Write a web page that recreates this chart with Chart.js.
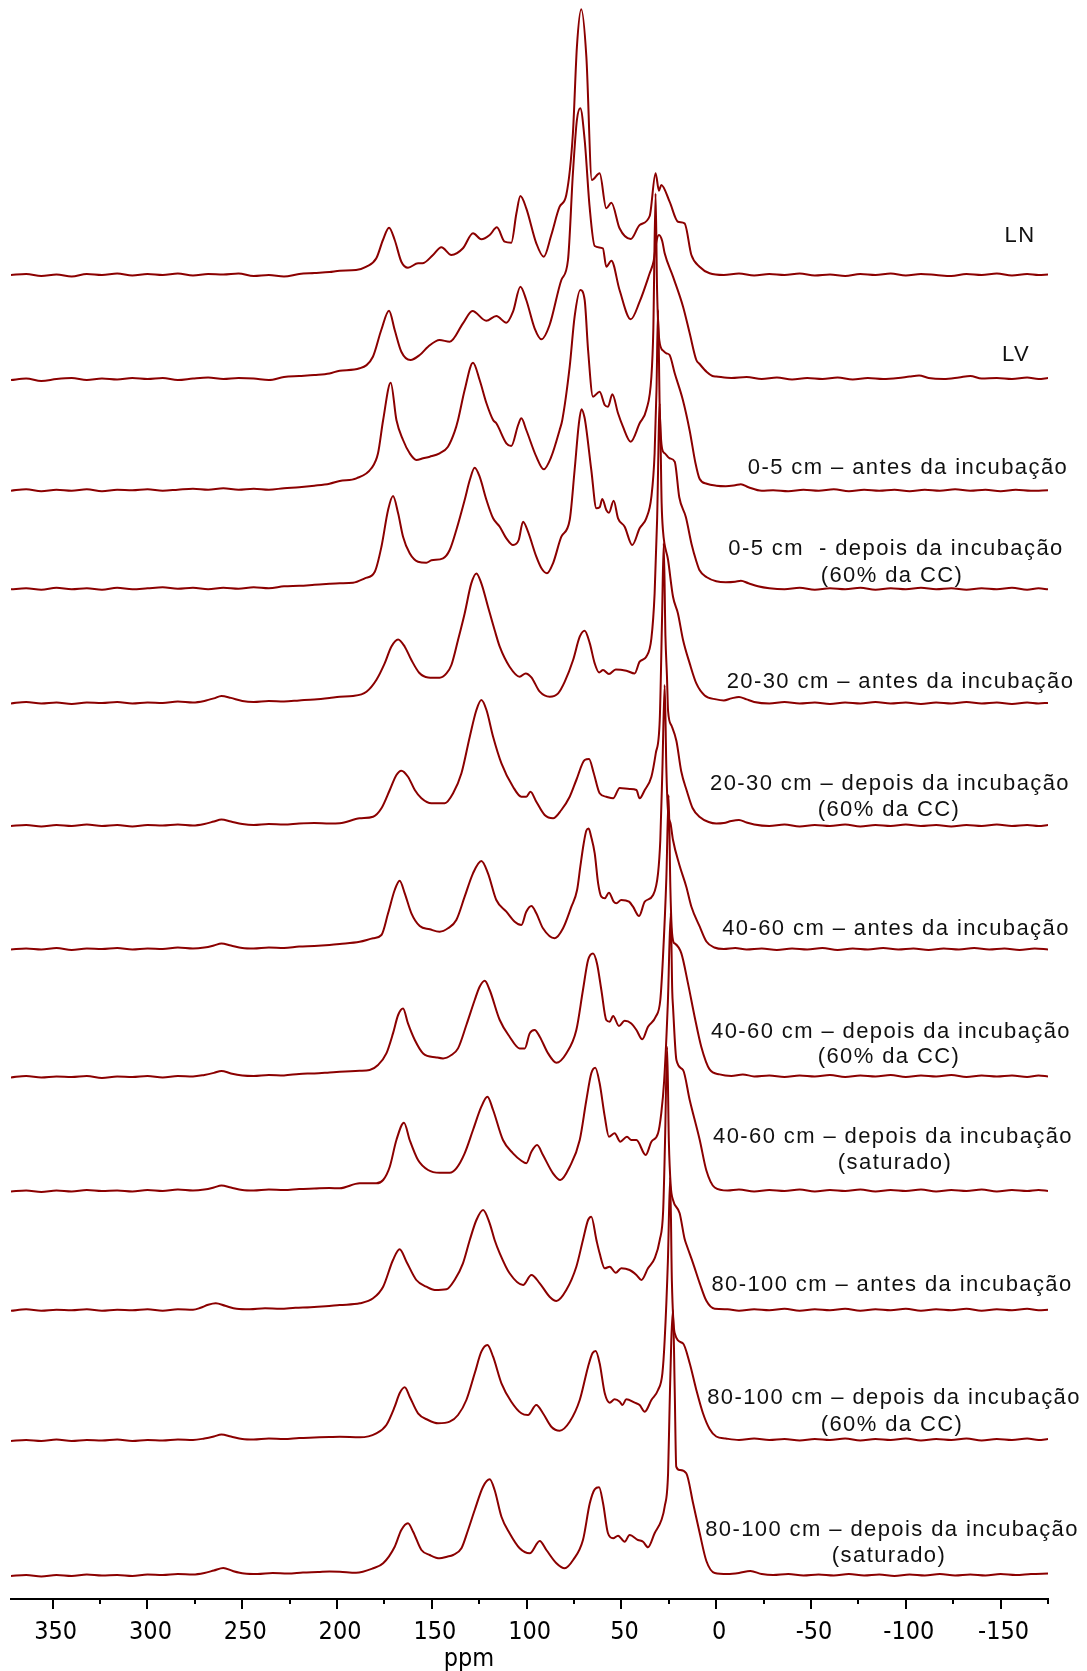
<!DOCTYPE html>
<html><head><meta charset="utf-8">
<script src="https://cdn.jsdelivr.net/npm/chart.js@4.4.1/dist/chart.umd.min.js"></script>
<style>html,body{margin:0;padding:0;background:#fff;}#wrap{width:1087px;height:1671px;}</style>
</head><body><div id="wrap"><canvas id="c" width="1087" height="1671"></canvas></div>
<script>
// ---------- DATA (ppm, intensity above each trace's own baseline) ----------
const traceLabels = [
  ["LN"],
  ["LV"],
  ["0-5 cm \u2013 antes da incuba\u00e7\u00e3o"],
  ["0-5 cm  - depois da incuba\u00e7\u00e3o", "(60% da CC)"],
  ["20-30 cm \u2013 antes da incuba\u00e7\u00e3o"],
  ["20-30 cm \u2013 depois da incuba\u00e7\u00e3o", "(60% da CC)"],
  ["40-60 cm \u2013 antes da incuba\u00e7\u00e3o"],
  ["40-60 cm \u2013 depois da incuba\u00e7\u00e3o", "(60% da CC)"],
  ["40-60 cm \u2013 depois da incuba\u00e7\u00e3o", "(saturado)"],
  ["80-100 cm \u2013 antes da incuba\u00e7\u00e3o"],
  ["80-100 cm \u2013 depois da incuba\u00e7\u00e3o", "(60% da CC)"],
  ["80-100 cm \u2013 depois da incuba\u00e7\u00e3o", "(saturado)"]
];
// vertical stacking offset of each spectrum (intensity units)
const stackOffsets = [1324, 1220, 1108.3, 1009.7, 895.6, 773, 649.5, 521.6, 407.5, 288.2, 158, 23];
const xTickValues = [350, 300, 250, 200, 150, 100, 50, 0, -50, -100, -150];

const LN = [[372,0],[364,1],[356,-1],[348,0.5],[340,-1.5],[332,1],[324,0],[316,1.5],[308,-0.5],[300,1],[292,0],[284,1.5],[276,-0.5],[268,1],[260,0.5],[252,1.5],[244,-1],[236,0],[228,-1.5],[220,1],[212,2],[204,3],[198.6,4.3],[190,5],[184.5,8.3],[179.3,16.7],[175.8,35],[172.6,47.3],[169.6,35],[166.1,13.3],[162.6,7.3],[157.3,11.7],[155,11.7],[149.4,20],[145,27.7],[139.7,20],[133.6,26.7],[128.3,41.7],[123.9,35.7],[119.5,40],[115.7,47.7],[111.6,33.3],[108.1,32.3],[105.4,61.7],[103.3,79],[100.2,66.7],[94.9,31.7],[91,18.3],[87,40],[82.6,68.3],[79.1,80],[75.6,141.7],[73.5,228],[71.2,265.7],[68.5,218],[65.6,95],[61.5,101.7],[58,66.7],[55.3,72.3],[51,46.7],[45.1,36],[40.4,50],[35.1,59],[32,101.7],[30.2,84.3],[29,90],[24.6,73.3],[20.2,53.3],[16.7,51.7],[13.1,20],[8.8,8.3],[3.5,1.7],[-4,0],[-12,1.5],[-20,-0.5],[-28,1],[-36,0],[-44,1.5],[-52,-0.5],[-60,0.5],[-68,-1],[-76,1],[-84,0],[-92,1.5],[-100,-0.5],[-108,1],[-116,0],[-124,-1],[-132,1],[-140,0],[-148,1.5],[-156,-0.5],[-164,1],[-170,0],[-175,0.5]];

const LV = [[372,-1],[364,0.5],[356,-2],[348,0],[340,1],[332,-1],[324,0.5],[316,-0.5],[308,1],[300,0],[292,1],[284,-1],[276,0.5],[268,1.5],[260,0],[252,1],[244,0.5],[236,-1],[228,2],[220,3],[212,4],[204,5.5],[198.6,8.3],[188.1,10.7],[181.1,22.3],[176.7,49],[172.6,68.3],[169.6,49],[166.1,27.3],[161.3,19],[156.4,24],[152,32.3],[145.9,39],[140.6,37.3],[133.6,55.7],[128.6,68],[121.3,58.3],[116,63],[110.7,56.3],[107.2,67.3],[103.3,92.3],[100.2,79],[95.8,50.7],[92.2,39.7],[87.9,54],[81.7,99],[78.2,119],[75.6,205.7],[73.5,259],[71.7,270.7],[69.4,239],[66.8,172.3],[64.1,133],[59.8,130.7],[58,112.3],[55.3,118.3],[51,89],[45.1,59.7],[40.4,77.3],[35.1,105.7],[33,118],[31.5,138],[30.2,144],[28.5,138],[27.2,125.7],[22.8,102.3],[17.5,72.3],[14,45.7],[10.5,19],[8.8,15],[5,7],[2,3],[0,2.5],[-8,1],[-16,2],[-24,0],[-32,1.5],[-40,-0.5],[-48,1],[-56,0],[-64,1.5],[-72,-0.5],[-80,1],[-88,0],[-96,1],[-102,2.5],[-107,3.5],[-112,1],[-120,0],[-128,1.5],[-134,3],[-140,0.5],[-148,1],[-156,0],[-164,1.5],[-170,0],[-175,1]];

const S05_antes = [[372,0],[364,1.5],[356,-0.5],[348,1],[340,0],[332,1.5],[324,-0.5],[316,1],[308,0.5],[300,1.5],[292,0],[284,1],[276,2],[268,1],[260,2.5],[252,1],[244,2],[236,1],[228,2.5],[220,3.5],[212,5],[204,7],[198.6,9.7],[189.8,12.4],[181.9,22.4],[178.4,37.4],[175.7,70.7],[171.7,108],[168.7,70.7],[165.2,50.7],[161.7,37.4],[158.2,30.7],[154.6,32.4],[151.1,34],[145.9,37.4],[141.5,44],[138,59],[136.2,70.7],[132.7,100.7],[128.3,128],[124.8,110.7],[121.2,87.4],[117.7,70.7],[116,67.4],[110.7,47.4],[108.1,44.7],[104.5,65.7],[102.8,72.4],[100.2,60.7],[94.9,34],[91,21.4],[87,34],[82.6,60.7],[81.2,70.7],[77.3,124],[74.7,174],[71.7,200.7],[69.4,190.7],[67.6,140.7],[65,94],[61.5,99],[58.8,85.7],[57.1,84],[54.8,96.4],[51.8,77.4],[49.2,64],[45.1,49],[40.4,67.4],[36.9,80.7],[34.2,114],[33.2,160],[32,297.3],[31.2,200],[30,150],[28,140],[26.3,137.4],[24.6,135.7],[21.9,117.4],[17.6,90.7],[14,60],[11,28],[8.8,12],[5,7],[0,5],[-5,4.5],[-10,5.5],[-13,6.5],[-17,3.5],[-24,0],[-30,0.5],[-38,-0.5],[-46,1],[-54,0],[-62,1.5],[-70,-0.5],[-78,1],[-86,0],[-94,1],[-102,-0.5],[-110,1],[-118,0],[-126,1.5],[-134,0],[-142,1],[-150,-0.5],[-158,1],[-166,0],[-175,0.5]];

const S05_depois = [[372,0],[364,1],[356,-0.5],[348,1.5],[340,0],[332,1],[324,-0.5],[316,1.5],[308,0],[300,1],[292,2],[284,0.5],[276,1.5],[268,0],[260,1.5],[252,0.5],[244,2],[236,1],[228,3],[220,3.5],[212,4.5],[204,5.5],[198.6,6],[191.6,6.6],[185.4,11],[180.1,17.6],[176.6,42.6],[173.1,79.3],[170.5,93.3],[167.8,76],[165.2,52.6],[161.7,36],[157.3,27.6],[152.9,26.6],[150.2,29],[144.1,31],[140.6,39.3],[137.1,59.3],[132.7,89.3],[130,109.3],[127.4,121.6],[124.8,112.6],[121.2,89.3],[117.7,71],[114.2,62.6],[110.7,51],[107.2,44.3],[104.2,49.3],[101.9,67.6],[99.3,57.6],[94.9,32.6],[92.2,21],[89.3,16],[86.1,26],[81.7,52.6],[77.3,69.3],[74.7,119.3],[72.5,165],[71.1,180],[69.5,172],[68.5,160],[65.9,119.3],[63.2,81],[61.5,82],[60.1,90.3],[58,79.3],[56.6,76.6],[54.1,88.6],[51.8,71],[48.3,62.6],[44.3,44.3],[40.4,61],[36.9,71],[34.2,92.6],[32.5,136],[31.5,200],[30.7,279.3],[29.8,180],[28.5,140],[27.2,136],[24.6,131],[21.9,127.6],[19.5,92],[16,72],[13,45],[10.5,28],[8.8,19],[5,12],[0,8],[-5,7],[-10,7.5],[-13,8.5],[-17,6],[-22,3],[-28,1],[-36,0],[-44,1.5],[-52,-0.5],[-60,1],[-68,0],[-76,1.5],[-84,-0.5],[-92,1],[-100,0],[-108,1.5],[-116,0],[-124,1],[-132,-0.5],[-140,1],[-148,0],[-156,1.5],[-164,-0.5],[-170,1],[-175,0]];

const S2030_antes = [[372,0],[364,1.5],[356,0],[348,1],[340,-0.5],[332,1],[324,0.5],[316,1.5],[308,0],[300,1],[292,0.5],[284,2],[276,1],[270,2.5],[265,5],[261,7.5],[256,5.5],[250,2.5],[244,1.5],[236,2.5],[228,2],[220,3],[212,4],[204,5.5],[198.6,6.7],[191.6,7.4],[184.5,11.7],[179.3,23.4],[174.9,40],[171.4,56.7],[167.8,64],[164.3,56.7],[160.8,43.4],[156.7,30.7],[152,26],[145.9,25.7],[142.3,30],[139.7,38.4],[136.2,63.4],[132.7,90],[129.2,120],[126.5,130],[123.9,120],[120.4,96.7],[116.9,73.4],[114.2,56.7],[109,36.7],[103.7,26.7],[100.5,30],[97.5,26],[93.1,11.7],[87.8,6.7],[83.4,10],[79.9,21.7],[75.5,43.4],[72,66.7],[69.4,72.7],[66.7,60],[64.1,40],[61.8,31],[59.7,33.4],[56.6,29.4],[53,34],[47.4,32.7],[43,30],[40.4,41.7],[36.9,46.7],[34.2,65],[32.5,110],[31.2,183],[29.8,300],[28.8,200],[28.1,173],[25.4,143.4],[22.8,106.7],[20.2,90],[17.5,63.4],[14,40],[10.5,20],[6.1,8],[0,4],[-4,3],[-8,5],[-12,6.5],[-16,4],[-20,1.5],[-28,0],[-36,1.5],[-44,0],[-52,1],[-60,-0.5],[-68,1],[-76,0],[-84,1.5],[-92,0],[-100,1],[-108,-0.5],[-116,1],[-124,0],[-132,1.5],[-140,0],[-148,1],[-156,-0.5],[-164,1],[-170,0],[-175,0.5]];

const S2030_depois = [[372,0],[364,1],[356,-0.5],[348,1],[340,0],[332,1.5],[324,0],[316,1],[308,-0.5],[300,1],[292,0.5],[284,1.5],[276,0.5],[270,2],[265,4.5],[261,6.5],[256,4.5],[250,2],[244,1],[236,2],[228,1.5],[220,2.5],[212,3],[204,2.5],[198.6,2.7],[188.1,7.7],[181,9.3],[176.6,17.7],[172.2,36],[168.7,51],[166.1,55.3],[162.6,49.3],[159,36],[155.5,27.7],[150.2,22.7],[143.2,22.7],[138.8,32.7],[134.4,52.7],[130,89.3],[126.5,116],[123.9,126],[121.2,116],[117.7,89.3],[113.3,62.7],[107.2,39.3],[102.8,29.3],[100.2,29.3],[98,34.3],[94.9,24.3],[90.5,11],[86.1,7.7],[81.7,16],[77.3,29.3],[73.8,46],[69.4,66],[67.1,67],[64.6,52.7],[61.5,32.7],[58,29.3],[54.4,27.7],[50.9,38],[45.7,37],[42.1,36],[40.4,27.7],[37.7,36],[34.2,49.3],[31.9,72.7],[29.8,106],[28.6,206],[27.7,282.7],[26.8,190],[26,150],[25.4,115],[23.5,100],[21,85],[18.5,55],[15.5,35],[12.5,18],[8.7,9],[4,4],[0,2.5],[-4,3],[-8,5],[-12,6],[-16,3.5],[-20,1.5],[-28,0],[-36,1.5],[-44,-0.5],[-52,1],[-60,0],[-68,1.5],[-76,-0.5],[-84,1],[-92,0],[-100,1.5],[-108,0],[-116,1],[-124,-0.5],[-132,1],[-140,0],[-148,1.5],[-156,0],[-164,1],[-170,0],[-175,1]];

const S4060_antes = [[372,0],[364,1],[356,0],[348,1.5],[340,-0.5],[332,1],[324,0.5],[316,1.5],[308,0],[300,1],[292,0.5],[284,2],[276,1],[270,2],[265,4],[261,6],[256,4],[250,1.5],[244,1],[236,2],[228,1.5],[220,3],[212,3.5],[204,4.5],[198.6,5.5],[188.1,7.8],[181,11.2],[176.6,14.5],[173.1,36.2],[169.6,59.5],[167,68.8],[164.3,56.2],[160.8,36.2],[156.4,23.5],[151.1,20.2],[145.9,17.8],[141.5,21.2],[137.1,29.5],[132.7,52.8],[128.3,76.2],[123.9,88.5],[120.4,76.2],[116,49.5],[110.7,37.8],[106.3,27.8],[102.8,24.5],[100.2,37.8],[97.5,43.5],[94.9,36.2],[91.4,21.2],[85.2,11.2],[80.8,21.2],[76.4,42.8],[73.4,59.5],[71.7,82.8],[70,105],[68.5,119],[67.3,121],[66,113],[64.1,96.2],[62.3,66.2],[60.6,52.8],[58.8,51.2],[56.6,56.8],[54.1,47.8],[52.7,46.2],[50.1,49.5],[46,47.8],[43.9,42.8],[40.7,33.5],[37.7,47.8],[33.3,54.5],[30.7,76.2],[29.5,109.5],[28.4,180],[27.2,264.5],[26.3,180],[25.5,140],[24,125],[22.8,109.5],[19.5,85],[15.8,62.8],[13.1,42.8],[8.7,22.8],[5.2,8],[1,2],[-4,0.5],[-10,1.5],[-16,0],[-24,1],[-32,-0.5],[-40,1],[-48,0],[-56,1.5],[-64,-0.5],[-72,1],[-80,0],[-88,1.5],[-96,0],[-104,1],[-112,-0.5],[-120,1],[-128,0],[-136,1.5],[-144,0],[-152,1],[-160,-0.5],[-168,1],[-175,0]];

const S4060_depoisCC = [[372,0],[364,1.5],[356,0],[348,1],[340,0.5],[332,1.5],[324,-0.5],[316,1],[308,0.5],[300,1.5],[292,0],[284,1.5],[276,1],[270,2.5],[265,4.5],[261,6.5],[256,4],[250,2],[244,1.5],[236,2.5],[228,2],[220,3.5],[212,4],[204,5],[198.6,5.7],[188.1,6.7],[182.8,7.4],[178.4,12.4],[174,24],[170.5,44],[167.8,62.4],[165.2,69],[162.6,54],[159,37.4],[154.6,24],[147.6,20],[144.1,19],[139.7,22.4],[136.2,29],[131.8,52.4],[127.4,77.4],[124.8,90.7],[122.1,96.7],[119.5,87.4],[114.2,57.4],[109,40.7],[103.7,29],[101,29],[98.4,44],[95.8,47.4],[93.1,40.7],[88.7,24],[84.3,14.7],[79.1,24],[73.8,47.4],[70.3,87.4],[67.6,117.4],[65,124],[62.9,114],[60.6,87.4],[58,57.4],[56.2,55.7],[54.4,61.4],[51.3,51.4],[48.3,56.7],[44.8,54],[42.1,47.4],[39,38.1],[36,50.7],[31.9,60.7],[29.5,77.4],[28.1,120],[26.3,200],[25.1,282.4],[24.2,190],[23.5,150],[22.5,135],[21.9,134],[18.4,124],[14.9,94],[11.4,60.7],[7.9,30.7],[3.5,8],[-1.8,3],[-8,1.5],[-14,3],[-20,1],[-28,2],[-36,0.5],[-44,2],[-52,1],[-60,2.5],[-68,0.5],[-76,2],[-84,1],[-92,2.5],[-100,0.5],[-108,2],[-116,1],[-124,2.5],[-132,0.5],[-140,2],[-148,1],[-156,2],[-164,0.5],[-170,2],[-175,1]];

const S4060_depoisSat = [[372,0],[364,1],[356,-0.5],[348,1],[340,0],[332,1.5],[324,0.5],[316,1],[308,0],[300,1.5],[292,0.5],[284,2],[276,1],[270,2],[265,4],[261,6],[256,4],[250,1.5],[244,1],[236,2],[228,1.5],[220,2.5],[212,3],[204,3.5],[198.6,3.2],[188.1,8.2],[179.3,8.2],[175.7,11.5],[172.2,24.8],[168.7,51.5],[164.7,68.8],[161.7,51.5],[157.3,31.5],[152,21.5],[145.9,18.8],[140.6,18.8],[137.1,23.2],[132.7,38.2],[128.3,61.5],[123.9,84.8],[120.7,94.8],[117.7,81.5],[112.5,51.5],[107.2,38.2],[102.8,30.8],[100.2,28.2],[97.5,39.8],[94.5,46.5],[91.4,36.5],[86.1,18.2],[82.2,11.5],[77.3,24.8],[72,51.5],[68.5,91.5],[65.9,118.2],[63.8,123.8],[61.5,108.2],[58.8,74.8],[56.6,54.8],[53.6,58.2],[50.6,49.8],[47.1,54.8],[44.8,51.5],[42.1,51.5],[37.2,36.5],[34.2,49.8],[30.7,58.2],[29,78.2],[27.5,110],[25.5,190],[24,278.5],[23.2,200],[22.8,184.8],[21,131.5],[17.5,121.5],[14,91.5],[8.7,51.5],[5.2,21],[0.8,4],[-6,1],[-12,2],[-20,0],[-28,1.5],[-36,0.5],[-44,2],[-52,0],[-60,1.5],[-68,0.5],[-76,2],[-84,0],[-92,1.5],[-100,0.5],[-108,2],[-116,0],[-124,1.5],[-132,0.5],[-140,2],[-148,0],[-156,1.5],[-164,0.5],[-170,1.5],[-175,0.5]];

const S80100_antes = [[372,0],[364,1.5],[356,0],[348,1],[340,0.5],[332,1.5],[324,0],[316,1],[308,0.5],[300,1.5],[292,0],[284,1.5],[276,1],[272,3],[268,6],[264,7.5],[259,5],[253,2],[246,1.5],[238,2.5],[230,2],[222,3],[214,3.5],[206,4.5],[198.6,5.8],[188,7.5],[181,12.5],[175.7,24.1],[170.5,50.8],[167,61.5],[163.4,49.1],[158.2,30.8],[152.9,24.1],[148.5,20.8],[142.3,21.5],[138,30.8],[133.6,47.5],[130,70.8],[126.5,90.8],[123,100.8],[119.5,87.5],[116.9,70.8],[114.2,57.5],[109,37.5],[101.9,25.8],[97.5,35.8],[93.1,27.5],[87.9,14.1],[84.3,9.8],[79.1,20.8],[73.8,44.1],[70.3,70.8],[67.6,90.8],[65.9,94.1],[63.2,70.8],[61.5,57.5],[58.8,42.5],[56.2,44.1],[53,38.1],[50.1,42.5],[45.7,40.8],[42.1,35.8],[39.5,30.8],[36,42.5],[32.5,52.5],[29.8,70.8],[28,100],[27,170],[25.9,264],[25,170],[24,125],[22.8,110.8],[19.3,97.5],[16.7,72],[15.5,65],[12.2,47.5],[8.7,27.5],[5.2,10],[0.8,2],[-6,1.5],[-12,0],[-20,1.5],[-28,0.5],[-36,2],[-44,0],[-52,1.5],[-60,0.5],[-68,2],[-76,0],[-84,1.5],[-92,0.5],[-100,2],[-108,0],[-116,1.5],[-124,0.5],[-132,2],[-140,0],[-148,1.5],[-156,0.5],[-164,2],[-170,0.5],[-175,1]];

const S80100_depoisCC = [[372,0],[364,1],[356,0],[348,1.5],[340,0],[332,1],[324,0.5],[316,1.5],[308,0],[300,1],[292,0.5],[284,1.5],[276,1],[270,2.5],[265,4.5],[261,6.5],[256,4.5],[250,2],[244,1.5],[236,2.5],[228,2],[220,3],[212,3.5],[204,4],[198.6,4.3],[188,3.7],[179.3,7.7],[174,16],[169.6,34.3],[167,47.7],[164.3,53.7],[161.7,44.3],[157.3,27.7],[152,21],[146.7,17.7],[140.6,19.3],[136.2,26],[131.8,41],[127.4,67.7],[123.9,89.3],[120.7,96],[117.7,84.3],[113.3,57.7],[108.1,39.3],[102.8,27.7],[99.3,26],[94.9,36],[91.4,27.7],[87,14.3],[82.6,10.3],[77.3,19.3],[72,41],[67.6,74.3],[65.3,87.7],[63.6,90],[61.5,77.7],[58.8,47.7],[56.2,38.3],[53.6,41.7],[50.9,39.3],[49.5,36],[47.4,41.7],[43,38.3],[40.4,36],[37.7,29.3],[34.2,41],[30.7,51],[28.4,67.7],[27.2,101],[25.5,180],[24.3,263.7],[23.4,160],[21.9,107.7],[17.6,97.7],[14,77.7],[10.5,51],[7,27.7],[3.5,12],[0,4.5],[-5,2.5],[-12,1],[-20,2.5],[-28,1],[-36,2],[-44,0.5],[-52,2],[-60,1],[-68,2.5],[-76,0.5],[-84,2],[-92,1],[-100,2.5],[-108,0.5],[-116,2],[-124,1],[-132,2.5],[-140,0.5],[-148,2],[-156,1],[-164,2.5],[-170,1],[-175,2]];

const S80100_depoisSat = [[372,0],[364,1],[356,-0.5],[348,1],[340,0],[332,1.5],[324,0.5],[316,1],[308,0],[300,1.5],[292,1],[284,2],[276,1.5],[270,3],[265,5.5],[260,8],[255,5],[249,2.5],[242,2],[234,3],[226,2.5],[218,3.5],[210,4],[204,4.5],[198.6,4.3],[190,3.3],[181,7.7],[175.7,12.7],[169.6,29.3],[166.1,46],[162.6,52.7],[159.9,44.3],[155.5,26],[151.1,21],[145.9,17.7],[142,19.3],[138.8,21],[134.4,27.7],[130.9,46],[127.4,66],[123,89.3],[119.5,96.7],[116.9,86],[113.3,59.3],[109,42.7],[103.7,27.7],[98.4,22.7],[93.1,35],[89.6,26],[84.3,12.7],[79.9,7.7],[75.5,16],[70.3,36],[66.7,72.7],[64.1,86.7],[61.8,88.7],[59.7,72.7],[57.1,42.7],[54.4,37.7],[51.8,40.3],[48.3,34.3],[45.7,41],[41.3,36],[38.6,34.3],[36,28.7],[32.5,42.7],[28.9,56],[27.2,69.3],[25.4,102.7],[24.6,169.3],[23.7,236],[22.8,266],[21.9,186],[21.1,109.3],[19.3,106],[15.8,102.7],[12.2,72.7],[8.7,42.7],[5.2,15],[0.8,3],[-6,2],[-12,3],[-18,5],[-24,2],[-30,1],[-38,2],[-46,0.5],[-54,1.5],[-62,0.5],[-70,2],[-78,0.5],[-86,1.5],[-94,0],[-102,1.5],[-110,0.5],[-118,2],[-126,0.5],[-134,1.5],[-142,0.5],[-150,2],[-158,1],[-166,2],[-175,2.5]];

const spectra = [LN, LV, S05_antes, S05_depois, S2030_antes, S2030_depois, S4060_antes, S4060_depoisCC, S4060_depoisSat, S80100_antes, S80100_depoisCC, S80100_depoisSat];

// ---------- LAYOUT / STYLE ----------
const LINE_COLOR = '#8B0000';
const labelPos = [
  [[1020,235.5]], [[1016,355]], [[908,468]], [[896,549],[892,575.5]], [[900.5,682]],
  [[890,784],[889,810]], [[896,929]], [[891,1031.6],[889,1057]], [[893,1137],[895,1162.7]],
  [[892,1285]], [[894,1398],[892,1424.8]], [[892,1530],[889,1556]]
];

const datasets = spectra.map((s, i) => ({
  data: s.map(p => ({ x: p[0], y: stackOffsets[i] + p[1] })),
  borderColor: LINE_COLOR,
  borderWidth: 2,
  pointRadius: 0,
  fill: false,
  cubicInterpolationMode: 'monotone'
}));

const axisExtras = {
  id: 'axisExtras',
  afterDraw(chart) {
    const ctx = chart.ctx, xs = chart.scales.x;
    ctx.save();
    // minor ticks every 25 ppm
    ctx.strokeStyle = '#000'; ctx.lineWidth = 2;
    for (let v = -175; v <= 372; v += 25) {
      if (v % 50 === 0) continue;
      const px = Math.round(xs.getPixelForValue(v));
      ctx.beginPath(); ctx.moveTo(px, xs.top); ctx.lineTo(px, xs.top + 5); ctx.stroke();
    }
    // axis title
    ctx.fillStyle = '#000';
    ctx.font = '25px "DejaVu Sans Condensed", "DejaVu Sans", sans-serif';
    ctx.textAlign = 'center'; ctx.textBaseline = 'middle';
    ctx.fillText('ppm', 469, 1659);
    // spectrum labels
    ctx.fillStyle = '#111';
    ctx.font = '22px "Liberation Sans", Arial, sans-serif';
    if ('letterSpacing' in ctx) ctx.letterSpacing = '1.4px';
    traceLabels.forEach((lines, i) => {
      lines.forEach((t, j) => {
        const p = labelPos[i][j];
        ctx.fillText(t, p[0], p[1]);
      });
    });
    ctx.restore();
  }
};

new Chart(document.getElementById('c'), {
  type: 'line',
  data: { datasets },
  plugins: [axisExtras],
  options: {
    responsive: false,
    devicePixelRatio: 1,
    animation: false,
    layout: { padding: { left: 11, right: 39, top: 0, bottom: 0 } },
    plugins: { legend: { display: false }, tooltip: { enabled: false } },
    scales: {
      x: {
        type: 'linear', reverse: true, min: -175, max: 372,
        afterFit(s) { s.height = 72; },
        afterBuildTicks(s) { s.ticks = xTickValues.map(v => ({ value: v })); },
        ticks: {
          color: '#000', padding: 8, maxRotation: 0, autoSkip: false, labelOffset: 3,
          font: { size: 25, family: '"DejaVu Sans Condensed", "DejaVu Sans", sans-serif' },
          callback: v => String(v)
        },
        grid: { display: true, drawOnChartArea: false, drawTicks: true, tickLength: 10, color: '#000', lineWidth: 2 },
        border: { display: true, color: '#000', width: 2 }
      },
      y: { display: false, min: 0, max: 1599 }
    }
  }
});
</script>
</body></html>
